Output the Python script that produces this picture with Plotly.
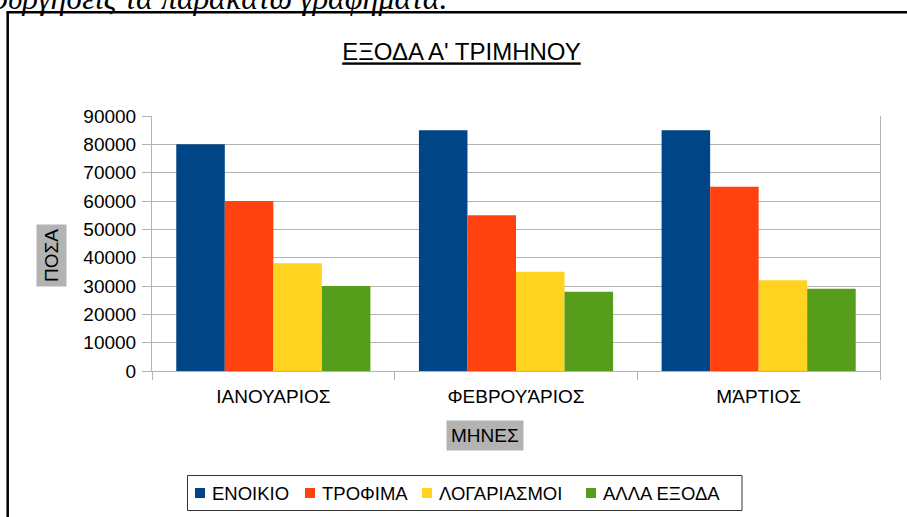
import plotly.graph_objects as go

months = ["ΙΑΝΟΥΑΡΙΟΣ", "ΦΕΒΡΟΥΆΡΙΟΣ", "ΜΆΡΤΙΟΣ"]
series_names = ["ΕΝΟΙΚΙΟ", "ΤΡΟΦΙΜΑ", "ΛΟΓΑΡΙΑΣΜΟΙ", "ΑΛΛΑ ΕΞΟΔΑ"]
rent = [80000, 85000, 85000]
food = [60000, 55000, 65000]
bills = [38000, 35000, 32000]
other = [30000, 28000, 29000]
colors = ["#004586", "#ff420e", "#ffd320", "#579d1c"]
y_ticks = [0, 10000, 20000, 30000, 40000, 50000, 60000, 70000, 80000, 90000]

W, H = 907, 517
L, R, T, B = 152, 880, 116, 371  # plot area in pixels


def px(x):
    return (x - L) / (R - L)


def py(y):
    return (B - y) / (B - T)


FONT = "Liberation Sans"
FS = 19

fig = go.Figure()
for name, vals, c in zip(series_names, [rent, food, bills, other], colors):
    fig.add_trace(go.Bar(x=months, y=vals, name=name, showlegend=False,
                         marker=dict(color=c, line=dict(width=0))))

# custom legend (compact like the reference)
leg_sq_x = [195, 305, 422, 586]
shapes = [
    dict(type="line", xref="paper", yref="paper", x0=px(7.7), x1=px(7.7), y0=py(12), y1=py(530),
         line=dict(color="black", width=2.5)),
    dict(type="line", xref="paper", yref="paper", x0=px(6.5), x1=px(920), y0=py(12.2), y1=py(12.2),
         line=dict(color="black", width=2.5)),
    dict(type="rect", xref="paper", yref="paper", x0=px(187.5), x1=px(742), y0=py(475.5), y1=py(510.5),
         line=dict(color="#333333", width=1), fillcolor="rgba(0,0,0,0)"),
]
annotations = []
for name, c, sx in zip(series_names, colors, leg_sq_x):
    shapes.append(dict(type="rect", xref="paper", yref="paper", x0=px(sx), x1=px(sx + 10),
                       y0=py(488), y1=py(498), line=dict(width=0), fillcolor=c))
    annotations.append(dict(text=name, xref="paper", yref="paper", x=px(sx + 15), y=py(493.5),
                            xanchor="left", yanchor="middle", showarrow=False,
                            font=dict(family=FONT, size=18.5, color="black")))

annotations += [
    dict(text="ΠΟΣΑ", xref="paper", yref="paper", x=px(51), y=py(256), textangle=-90,
         showarrow=False, bgcolor="#b3b3b3", borderpad=4,
         font=dict(family=FONT, size=FS, color="black"), xanchor="center", yanchor="middle"),
    dict(text="ΜΗΝΕΣ", xref="paper", yref="paper", x=px(485), y=py(435.5),
         showarrow=False, bgcolor="#b3b3b3", borderpad=4,
         font=dict(family=FONT, size=FS, color="black"), xanchor="center", yanchor="middle"),
    dict(text="<i>Να δημιουργήσεις τα παρακάτω γραφήματα.</i>", xref="paper", yref="paper",
         x=px(450), y=py(-2), xanchor="right", yanchor="middle", showarrow=False,
         font=dict(family="Liberation Serif", size=32, color="black")),
]

fig.update_layout(
    width=W, height=H,
    margin=dict(l=L, r=W - R, t=T, b=H - B, pad=0, autoexpand=False),
    paper_bgcolor="white", plot_bgcolor="white",
    barmode="group", bargap=0.2, bargroupgap=0,
    font=dict(family=FONT, size=FS, color="black"),
    title=dict(text="<u>ΕΞΟΔΑ Α' ΤΡΙΜΗΝΟΥ</u>", x=px(461.5), xref="paper", xanchor="center",
               y=1 - 52 / H, yanchor="middle", font=dict(family=FONT, size=24, color="black")),
    showlegend=False,
    xaxis=dict(type="category", tickson="boundaries", ticks="outside", ticklen=8,
               tickcolor="#b3b3b3", showline=True, linecolor="#b3b3b3", linewidth=1,
               showgrid=False, ticklabelstandoff=8, automargin=False,
               tickfont=dict(family=FONT, size=FS, color="black")),
    yaxis=dict(range=[0, 90000], tickvals=y_ticks, tickformat="d", ticks="outside", ticklen=9,
               tickcolor="#b3b3b3", showline=True, linecolor="#b3b3b3", mirror=True,
               showgrid=True, gridcolor="#b3b3b3", gridwidth=1, zeroline=False,
               automargin=False, ticklabelstandoff=2,
               tickfont=dict(family=FONT, size=FS, color="black")),
    annotations=annotations,
    shapes=shapes,
)

fig.write_html("out.html", config={"displayModeBar": False},
               post_script="document.body.style.margin='0px';document.body.style.padding='0px';")
